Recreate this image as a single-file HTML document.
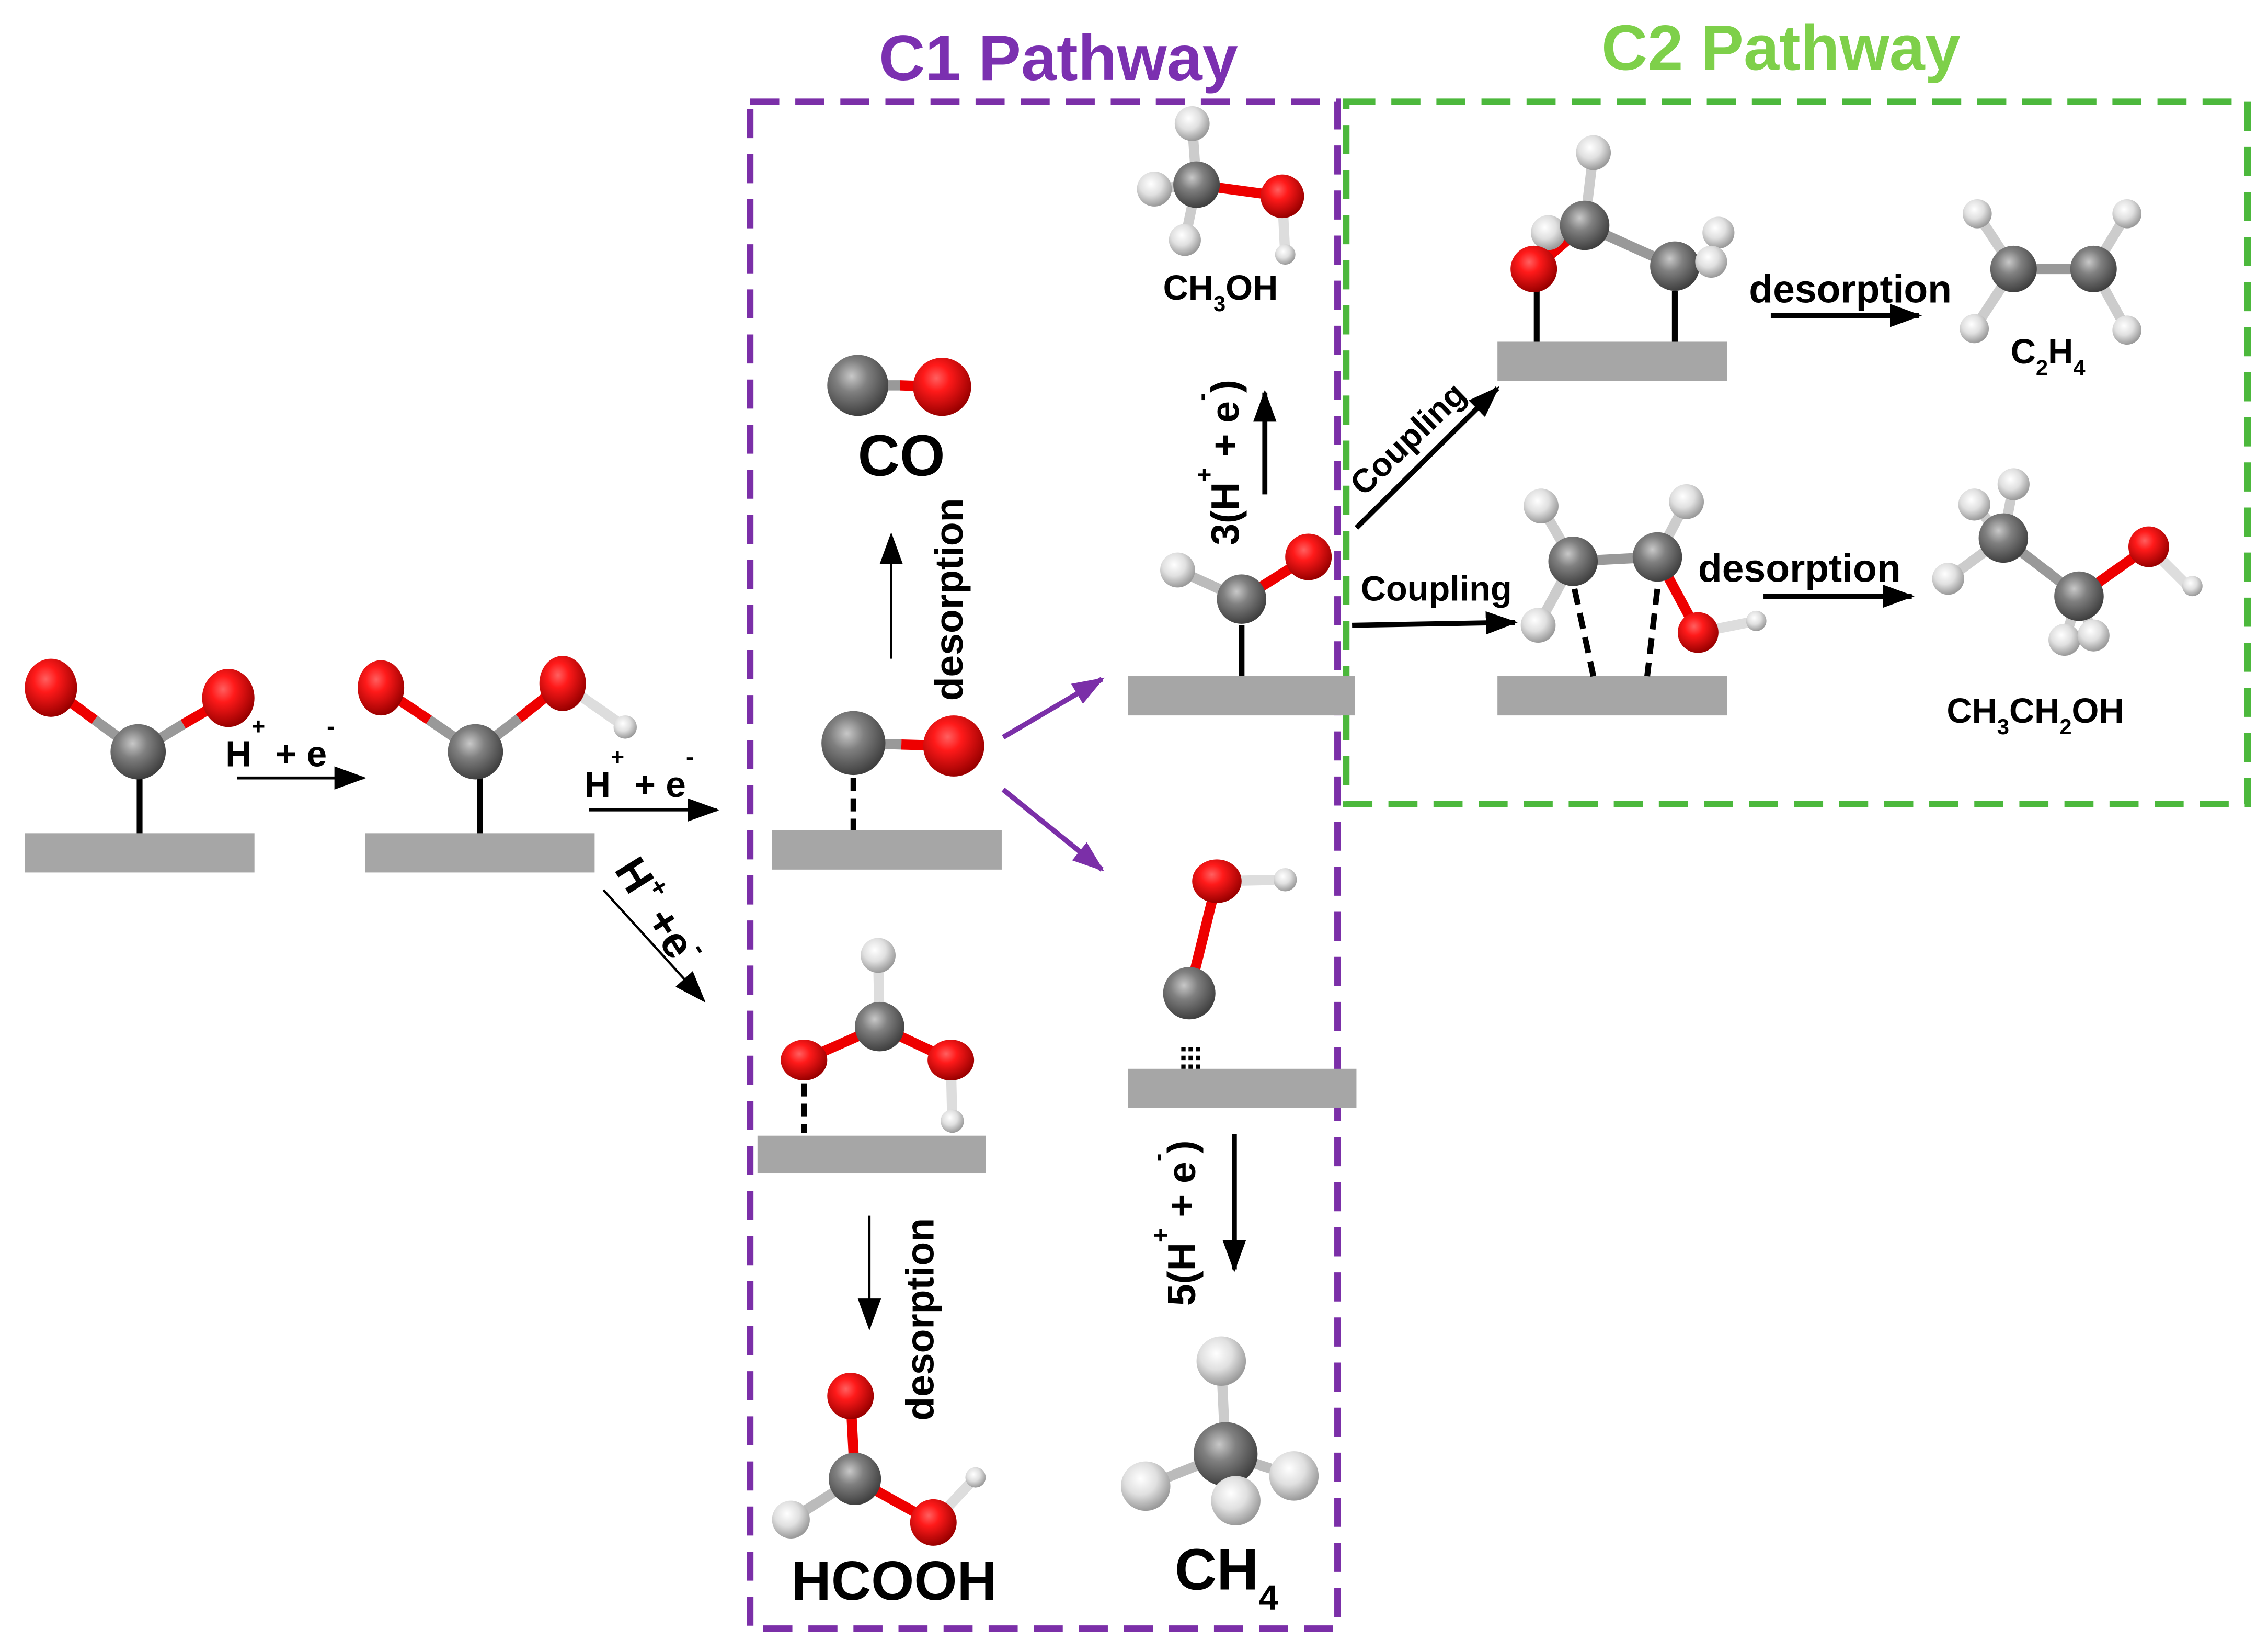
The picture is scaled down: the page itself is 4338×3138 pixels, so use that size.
<!DOCTYPE html>
<html><head><meta charset="utf-8"><style>
html,body{margin:0;padding:0;background:#fff;}
svg{display:block;}
text{font-family:"Liberation Sans",sans-serif;font-weight:bold;fill:#000;}
</style></head><body>
<svg width="4338" height="3138" viewBox="0 0 1560 1128.5" xmlns="http://www.w3.org/2000/svg">
<defs>
<radialGradient id="gO" cx="40%" cy="35%" r="65%"><stop offset="0" stop-color="#ff6060"/><stop offset="0.35" stop-color="#ff1a1a"/><stop offset="1" stop-color="#9a0000"/></radialGradient>
<radialGradient id="gC" cx="40%" cy="35%" r="65%"><stop offset="0" stop-color="#c8c8c8"/><stop offset="0.4" stop-color="#808080"/><stop offset="1" stop-color="#404040"/></radialGradient>
<radialGradient id="gH" cx="40%" cy="35%" r="65%"><stop offset="0" stop-color="#ffffff"/><stop offset="0.5" stop-color="#e0e0e0"/><stop offset="1" stop-color="#9a9a9a"/></radialGradient>
<marker id="ahb" markerWidth="22" markerHeight="16" refX="20" refY="8" orient="auto" markerUnits="userSpaceOnUse"><path d="M0,0 L22,8 L0,16z" fill="#000"/></marker>
<marker id="ahp" markerWidth="22" markerHeight="16" refX="20" refY="8" orient="auto" markerUnits="userSpaceOnUse"><path d="M0,0 L22,8 L0,16z" fill="#7b2fa8"/></marker>
</defs>

<rect x="516" y="70" width="404" height="1050" fill="none" stroke="#7b2fa8" stroke-width="4.5" stroke-dasharray="20,11"/>
<rect x="926" y="70" width="620" height="483" fill="none" stroke="#4cb83c" stroke-width="4.5" stroke-dasharray="20,11"/>
<text x="728" y="55" font-size="44" text-anchor="middle" style="fill:#7b30b0">C1 Pathway</text>
<text x="1225" y="48" font-size="44" text-anchor="middle" style="fill:#7ed04a">C2 Pathway</text>

<g fill="#a6a6a6">
<rect x="17" y="573" width="158" height="27"/>
<rect x="251" y="573" width="158" height="27"/>
<rect x="531" y="571" width="158" height="27"/>
<rect x="521" y="781" width="157" height="26"/>
<rect x="776" y="465" width="156" height="27"/>
<rect x="776" y="735" width="157" height="27"/>
<rect x="1030" y="235" width="158" height="27"/>
<rect x="1030" y="465" width="158" height="27"/>
</g>

<g stroke="#000" stroke-width="4">
<line x1="96" y1="535" x2="96" y2="573"/>
<line x1="330" y1="535" x2="330" y2="573"/>
<line x1="587" y1="535" x2="587" y2="571" stroke-dasharray="9,5"/>
<line x1="553" y1="745" x2="553" y2="779" stroke-dasharray="9,5"/>
<line x1="854" y1="430" x2="854" y2="465"/>
<line x1="1057" y1="200" x2="1057" y2="235"/>
<line x1="1152" y1="200" x2="1152" y2="235"/>
<line x1="1083" y1="405" x2="1096" y2="465" stroke-dasharray="11,6"/>
<line x1="1140" y1="405" x2="1133" y2="465" stroke-dasharray="11,6"/>
</g>
<g stroke="#000" stroke-width="3">
<line x1="814" y1="720" x2="814" y2="735" stroke-dasharray="3,3"/>
<line x1="819" y1="720" x2="819" y2="735" stroke-dasharray="3,3"/>
<line x1="824" y1="720" x2="824" y2="735" stroke-dasharray="3,3"/>
</g>

<g stroke-width="7" stroke-linecap="butt">
<line x1="95" y1="517" x2="65" y2="495" stroke="#999"/><line x1="65" y1="495" x2="35" y2="473" stroke="#e00"/>
<line x1="95" y1="517" x2="126" y2="498" stroke="#999"/><line x1="126" y1="498" x2="157" y2="480" stroke="#e00"/>
<line x1="327" y1="517" x2="295" y2="495" stroke="#999"/><line x1="295" y1="495" x2="262" y2="473" stroke="#e00"/>
<line x1="327" y1="517" x2="357" y2="494" stroke="#999"/><line x1="357" y1="494" x2="387" y2="470" stroke="#e00"/>
<line x1="387" y1="470" x2="430" y2="500" stroke="#ddd"/>
<line x1="587" y1="511" x2="620" y2="512" stroke="#999"/><line x1="620" y1="512" x2="656" y2="513" stroke="#e00"/>
<line x1="590" y1="265" x2="619" y2="265" stroke="#999"/><line x1="619" y1="265" x2="648" y2="266" stroke="#e00"/>
<line x1="605" y1="706" x2="604" y2="657" stroke="#ddd"/>
<line x1="605" y1="706" x2="553" y2="729" stroke="#e00"/><line x1="605" y1="706" x2="654" y2="729" stroke="#e00"/>
<line x1="654" y1="729" x2="655" y2="771" stroke="#ddd"/>
<line x1="588" y1="1017" x2="585" y2="960" stroke="#e00"/>
<line x1="588" y1="1017" x2="544" y2="1045" stroke="#bbb"/>
<line x1="588" y1="1017" x2="642" y2="1047" stroke="#e00"/>
<line x1="642" y1="1047" x2="671" y2="1016" stroke="#ddd"/>
<line x1="854" y1="412" x2="900" y2="383" stroke="#e00"/><line x1="854" y1="412" x2="810" y2="392" stroke="#bbb"/>
<line x1="823" y1="127" x2="882" y2="135" stroke="#e00"/><line x1="823" y1="127" x2="820" y2="85" stroke="#ccc"/>
<line x1="823" y1="127" x2="794" y2="130" stroke="#ccc"/><line x1="823" y1="127" x2="815" y2="165" stroke="#ccc"/>
<line x1="882" y1="135" x2="884" y2="175" stroke="#ddd"/>
<line x1="818" y1="683" x2="837" y2="606" stroke="#e00"/><line x1="837" y1="606" x2="884" y2="605" stroke="#ddd"/>
<line x1="843" y1="1000" x2="840" y2="936" stroke="#ccc"/><line x1="843" y1="1000" x2="788" y2="1022" stroke="#bbb"/>
<line x1="843" y1="1000" x2="890" y2="1015" stroke="#bbb"/>
<line x1="1055" y1="185" x2="1090" y2="155" stroke="#e00"/><line x1="1090" y1="155" x2="1096" y2="105" stroke="#ccc"/>
<line x1="1090" y1="155" x2="1152" y2="183" stroke="#999"/>
<line x1="1385" y1="185" x2="1440" y2="185" stroke="#999"/>
<line x1="1385" y1="185" x2="1360" y2="147" stroke="#ccc"/><line x1="1385" y1="185" x2="1358" y2="226" stroke="#ccc"/>
<line x1="1440" y1="185" x2="1463" y2="147" stroke="#ccc"/><line x1="1440" y1="185" x2="1463" y2="227" stroke="#ccc"/>
<line x1="1082" y1="386" x2="1140" y2="383" stroke="#999"/>
<line x1="1082" y1="386" x2="1060" y2="348" stroke="#ccc"/><line x1="1082" y1="386" x2="1058" y2="430" stroke="#ccc"/>
<line x1="1140" y1="383" x2="1160" y2="345" stroke="#ccc"/><line x1="1140" y1="383" x2="1168" y2="435" stroke="#e00"/>
<line x1="1168" y1="435" x2="1208" y2="427" stroke="#ddd"/>
<line x1="1378" y1="370" x2="1358" y2="347" stroke="#ccc"/><line x1="1378" y1="370" x2="1385" y2="333" stroke="#ccc"/>
<line x1="1378" y1="370" x2="1340" y2="398" stroke="#ccc"/>
<line x1="1430" y1="410" x2="1420" y2="440" stroke="#ccc"/><line x1="1430" y1="410" x2="1440" y2="437" stroke="#ccc"/>
<line x1="1378" y1="370" x2="1430" y2="410" stroke="#999"/><line x1="1430" y1="410" x2="1478" y2="376" stroke="#e00"/>
<line x1="1478" y1="376" x2="1505" y2="403" stroke="#ddd"/>
</g>

<g>
<ellipse cx="35" cy="473" rx="18" ry="20" fill="url(#gO)"/><ellipse cx="157" cy="480" rx="18" ry="20" fill="url(#gO)"/><circle cx="95" cy="517" r="19" fill="url(#gC)"/>
<ellipse cx="262" cy="473" rx="16" ry="19" fill="url(#gO)"/><ellipse cx="387" cy="470" rx="16" ry="19" fill="url(#gO)"/><circle cx="327" cy="517" r="19" fill="url(#gC)"/><circle cx="430" cy="500" r="8" fill="url(#gH)"/>
<circle cx="587" cy="511" r="22" fill="url(#gC)"/><circle cx="656" cy="513" r="21" fill="url(#gO)"/>
<circle cx="590" cy="265" r="21" fill="url(#gC)"/><circle cx="648" cy="266" r="20" fill="url(#gO)"/>
<circle cx="604" cy="657" r="12" fill="url(#gH)"/><circle cx="605" cy="706" r="17" fill="url(#gC)"/><ellipse cx="553" cy="729" rx="16" ry="14" fill="url(#gO)"/><ellipse cx="654" cy="729" rx="16" ry="14" fill="url(#gO)"/><circle cx="655" cy="771" r="8" fill="url(#gH)"/>
<circle cx="585" cy="960" r="16" fill="url(#gO)"/><circle cx="588" cy="1017" r="18" fill="url(#gC)"/><circle cx="544" cy="1045" r="13" fill="url(#gH)"/><circle cx="642" cy="1047" r="16" fill="url(#gO)"/><circle cx="671" cy="1016" r="7" fill="url(#gH)"/>
<circle cx="810" cy="392" r="12" fill="url(#gH)"/><circle cx="854" cy="412" r="17" fill="url(#gC)"/><circle cx="900" cy="383" r="16" fill="url(#gO)"/>
<circle cx="820" cy="85" r="12" fill="url(#gH)"/><circle cx="794" cy="130" r="12" fill="url(#gH)"/><circle cx="823" cy="127" r="16" fill="url(#gC)"/><circle cx="815" cy="165" r="11" fill="url(#gH)"/><circle cx="882" cy="135" r="15" fill="url(#gO)"/><circle cx="884" cy="175" r="7" fill="url(#gH)"/>
<circle cx="818" cy="683" r="18" fill="url(#gC)"/><ellipse cx="837" cy="606" rx="17" ry="15" fill="url(#gO)"/><circle cx="884" cy="605" r="8" fill="url(#gH)"/>
<circle cx="840" cy="936" r="17" fill="url(#gH)"/><circle cx="843" cy="1000" r="22" fill="url(#gC)"/><circle cx="788" cy="1022" r="17" fill="url(#gH)"/><circle cx="890" cy="1015" r="17" fill="url(#gH)"/><circle cx="850" cy="1032" r="17" fill="url(#gH)"/>
<circle cx="1096" cy="105" r="12" fill="url(#gH)"/><circle cx="1065" cy="160" r="12" fill="url(#gH)"/><circle cx="1090" cy="155" r="17" fill="url(#gC)"/><circle cx="1152" cy="183" r="17" fill="url(#gC)"/><circle cx="1182" cy="160" r="11" fill="url(#gH)"/><circle cx="1177" cy="180" r="11" fill="url(#gH)"/><circle cx="1055" cy="185" r="16" fill="url(#gO)"/>
<circle cx="1360" cy="147" r="10" fill="url(#gH)"/><circle cx="1358" cy="226" r="10" fill="url(#gH)"/><circle cx="1463" cy="147" r="10" fill="url(#gH)"/><circle cx="1463" cy="227" r="10" fill="url(#gH)"/><circle cx="1385" cy="185" r="16" fill="url(#gC)"/><circle cx="1440" cy="185" r="16" fill="url(#gC)"/>
<circle cx="1060" cy="348" r="12" fill="url(#gH)"/><circle cx="1160" cy="345" r="12" fill="url(#gH)"/><circle cx="1058" cy="430" r="12" fill="url(#gH)"/><circle cx="1082" cy="386" r="17" fill="url(#gC)"/><circle cx="1140" cy="383" r="17" fill="url(#gC)"/><circle cx="1168" cy="435" r="14" fill="url(#gO)"/><circle cx="1208" cy="427" r="7" fill="url(#gH)"/>
<circle cx="1358" cy="347" r="11" fill="url(#gH)"/><circle cx="1385" cy="333" r="11" fill="url(#gH)"/><circle cx="1340" cy="398" r="11" fill="url(#gH)"/><circle cx="1378" cy="370" r="17" fill="url(#gC)"/><circle cx="1430" cy="410" r="17" fill="url(#gC)"/><circle cx="1420" cy="440" r="11" fill="url(#gH)"/><circle cx="1440" cy="437" r="11" fill="url(#gH)"/><circle cx="1478" cy="376" r="14" fill="url(#gO)"/><circle cx="1508" cy="403" r="7" fill="url(#gH)"/>
</g>

<g stroke="#000" fill="none">
<line x1="163" y1="535" x2="250" y2="535" stroke-width="2" marker-end="url(#ahb)"/>
<line x1="405" y1="557" x2="493" y2="557" stroke-width="2" marker-end="url(#ahb)"/>
<line x1="415" y1="612" x2="484" y2="688" stroke-width="1.6" marker-end="url(#ahb)"/>
<line x1="613" y1="453" x2="613" y2="368" stroke-width="1.6" marker-end="url(#ahb)"/>
<line x1="598" y1="836" x2="598" y2="913" stroke-width="1.6" marker-end="url(#ahb)"/>
<line x1="870" y1="340" x2="870" y2="270" stroke-width="3.5" marker-end="url(#ahb)"/>
<line x1="849" y1="780" x2="849" y2="873" stroke-width="3.5" marker-end="url(#ahb)"/>
<line x1="933" y1="363" x2="1030" y2="267" stroke-width="3.5" marker-end="url(#ahb)"/>
<line x1="930" y1="430" x2="1042" y2="428" stroke-width="3.5" marker-end="url(#ahb)"/>
<line x1="1218" y1="217" x2="1320" y2="217" stroke-width="3.5" marker-end="url(#ahb)"/>
<line x1="1213" y1="410" x2="1315" y2="410" stroke-width="3.5" marker-end="url(#ahb)"/>
<line x1="690" y1="507" x2="758" y2="467" stroke="#7b2fa8" stroke-width="3.5" marker-end="url(#ahp)"/>
<line x1="690" y1="543" x2="758" y2="598" stroke="#7b2fa8" stroke-width="3.5" marker-end="url(#ahp)"/>
</g>

<text x="155" y="527" font-size="25">H<tspan dy="-22" font-size="16">+</tspan><tspan dy="22"> + e</tspan><tspan dy="-22" font-size="16">-</tspan></text>
<text x="402" y="548" font-size="25">H<tspan dy="-22" font-size="16">+</tspan><tspan dy="22"> + e</tspan><tspan dy="-22" font-size="16">-</tspan></text>
<text transform="translate(422,598) rotate(58)" font-size="30">H<tspan dy="-14" font-size="18">+</tspan><tspan dy="14"> +e</tspan><tspan dy="-16" font-size="18">-</tspan></text>
<text transform="translate(662,482) rotate(-90)" font-size="27">desorption</text>
<text transform="translate(642,977) rotate(-90)" font-size="27">desorption</text>
<text transform="translate(852,375) rotate(-90)" font-size="27">3(H<tspan dy="-18" font-size="17">+</tspan><tspan dy="18"> + e</tspan><tspan dy="-20" font-size="17">-</tspan><tspan dy="20">)</tspan></text>
<text transform="translate(822,898) rotate(-90)" font-size="27">5(H<tspan dy="-18" font-size="17">+</tspan><tspan dy="18"> + e</tspan><tspan dy="-20" font-size="17">-</tspan><tspan dy="20">)</tspan></text>
<text transform="translate(938,342) rotate(-44)" font-size="23">Coupling</text>
<text x="936" y="413" font-size="24">Coupling</text>
<text x="1203" y="208" font-size="27">desorption</text>
<text x="1168" y="400" font-size="27">desorption</text>
<text x="620" y="327" font-size="40" text-anchor="middle">CO</text>
<text x="615" y="1100" font-size="38" text-anchor="middle">HCOOH</text>
<text x="808" y="1093" font-size="40">CH<tspan dy="14" font-size="24">4</tspan></text>
<text x="800" y="206" font-size="24">CH<tspan dy="8" font-size="15">3</tspan><tspan dy="-8">OH</tspan></text>
<text x="1383" y="250" font-size="24">C<tspan dy="8" font-size="15">2</tspan><tspan dy="-8">H</tspan><tspan dy="8" font-size="15">4</tspan></text>
<text x="1339" y="497" font-size="24">CH<tspan dy="8" font-size="15">3</tspan><tspan dy="-8">CH</tspan><tspan dy="8" font-size="15">2</tspan><tspan dy="-8">OH</tspan></text>
</svg>
</body></html>
